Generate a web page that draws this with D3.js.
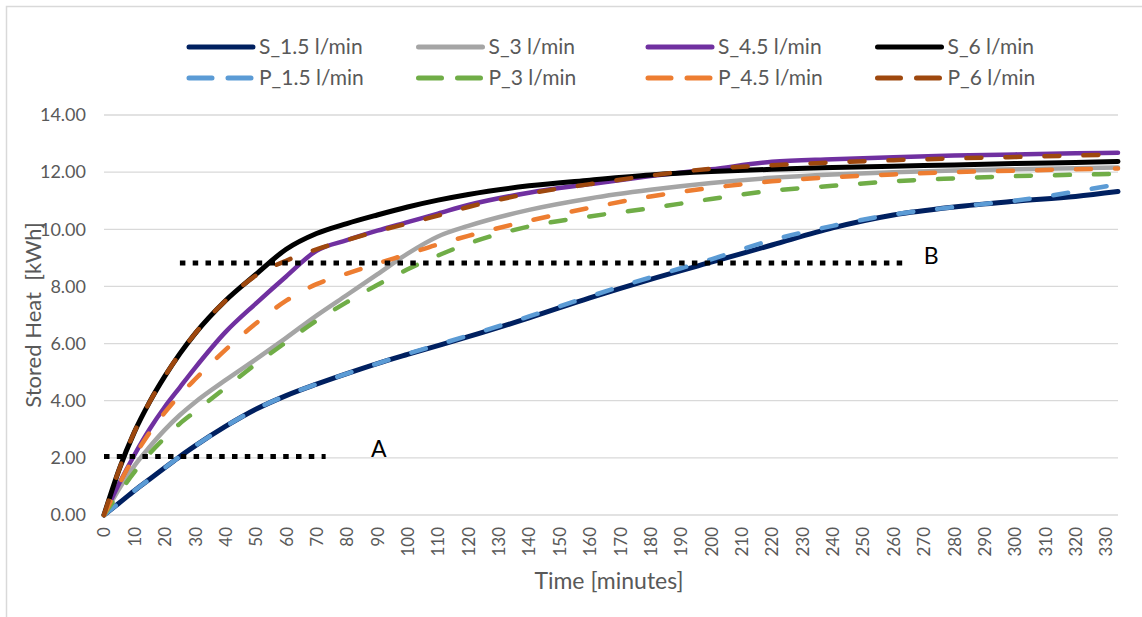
<!DOCTYPE html>
<html>
<head>
<meta charset="utf-8">
<script src="https://cdn.jsdelivr.net/npm/d3@7"></script>
<style>
  body { margin: 0; background: #fff; }
  text { font-family: Lato, "Open Sans", sans-serif; }
</style>
</head>
<body>
<svg id="chart" width="1142" height="617"></svg>
<script>
// time axis (minutes) and stored heat (kWh) for every flow rate
var minutes = [0, 5, 10, 15, 20, 25, 30, 40, 50, 60, 70, 80, 90, 100, 110, 120, 140, 160, 180, 200, 220, 240, 260, 280, 300, 320, 334];

var s15 = [0, 0.42, 0.85, 1.25, 1.65, 2.05, 2.42, 3.1, 3.7, 4.18, 4.58, 4.95, 5.3, 5.62, 5.93, 6.24, 6.9, 7.6, 8.25, 8.85, 9.45, 10.05, 10.5, 10.78, 10.98, 11.15, 11.32];
var s3  = [0, 0.92, 1.72, 2.38, 2.98, 3.5, 3.95, 4.72, 5.45, 6.2, 6.98, 7.7, 8.42, 9.15, 9.75, 10.12, 10.68, 11.08, 11.38, 11.62, 11.8, 11.92, 12.0, 12.06, 12.1, 12.14, 12.16];
var s45 = [0, 1.1, 2.1, 3.0, 3.78, 4.47, 5.15, 6.4, 7.4, 8.35, 9.25, 9.62, 9.95, 10.25, 10.55, 10.85, 11.28, 11.58, 11.86, 12.1, 12.36, 12.45, 12.52, 12.58, 12.62, 12.66, 12.68];
var s6  = [0, 1.6, 2.9, 3.95, 4.85, 5.65, 6.35, 7.5, 8.42, 9.3, 9.85, 10.2, 10.5, 10.78, 11.02, 11.22, 11.52, 11.72, 11.9, 12.02, 12.1, 12.16, 12.21, 12.25, 12.3, 12.34, 12.37];
var p15 = [0, 0.42, 0.85, 1.25, 1.65, 2.05, 2.42, 3.1, 3.7, 4.18, 4.58, 4.95, 5.3, 5.64, 5.96, 6.28, 6.95, 7.65, 8.32, 8.95, 9.62, 10.12, 10.52, 10.78, 11.0, 11.32, 11.58];
var p3  = [0, 0.78, 1.5, 2.15, 2.7, 3.2, 3.62, 4.45, 5.28, 6.05, 6.8, 7.45, 8.05, 8.6, 9.08, 9.5, 10.1, 10.45, 10.74, 11.06, 11.35, 11.52, 11.68, 11.78, 11.86, 11.91, 11.94];
var p45 = [0, 1.08, 2.05, 2.88, 3.58, 4.2, 4.75, 5.78, 6.7, 7.5, 8.08, 8.45, 8.8, 9.13, 9.47, 9.77, 10.3, 10.75, 11.15, 11.45, 11.68, 11.82, 11.92, 12.0, 12.05, 12.1, 12.13];
var p6  = [0, 1.6, 2.9, 3.95, 4.85, 5.65, 6.35, 7.5, 8.38, 8.9, 9.3, 9.62, 9.93, 10.2, 10.48, 10.78, 11.25, 11.58, 11.88, 12.12, 12.24, 12.34, 12.42, 12.48, 12.53, 12.58, 12.62];

var seriesNames  = ["S_1.5 l/min", "S_3 l/min", "S_4.5 l/min", "S_6 l/min", "P_1.5 l/min", "P_3 l/min", "P_4.5 l/min", "P_6 l/min"];
var seriesValues = [s15, s3, s45, s6, p15, p3, p45, p6];
var seriesColors = ["#002060", "#a5a5a5", "#7030a0", "#000000", "#5b9bd5", "#70ad47", "#ed7d31", "#9e480e"];
var seriesDashed = [false, false, false, false, true, true, true, true];

var yTicks = [0, 2, 4, 6, 8, 10, 12, 14];
var xTicks = d3.range(0, 331, 10);

// dotted marker lines A and B
var markNames = ["A", "B"];
var markLevel = [2.05, 8.82];
var markFrom  = [0, 25];
var markTo    = [73, 264];
var markLabelAt = [90.5, 272.5];

var svg = d3.select("#chart");
var textCol = "#595959";

// outer chart frame
svg.append("rect")
  .attr("x", 6.5).attr("y", 6.5)
  .attr("width", 1160).attr("height", 640)
  .attr("fill", "none")
  .attr("stroke", "#d9d9d9")
  .attr("stroke-width", 1.5);

var x = d3.scaleLinear().domain([0, 334]).range([104, 1118]);
var y = d3.scaleLinear().domain([0, 14]).range([515, 115]);

// gridlines
svg.append("g").selectAll("line")
  .data(yTicks)
  .enter().append("line")
  .attr("x1", x(0)).attr("x2", x(334))
  .attr("y1", function(d) { return y(d); })
  .attr("y2", function(d) { return y(d); })
  .attr("stroke", "#d9d9d9")
  .attr("stroke-width", 1.3);

// y axis
var yAxis = svg.append("g")
  .attr("transform", "translate(" + x(0) + ",0)")
  .call(d3.axisLeft(y).tickValues(yTicks).tickFormat(d3.format(".2f")).tickSize(0).tickPadding(18));
yAxis.select(".domain").remove();
yAxis.selectAll("text")
  .attr("fill", textCol)
  .style("font-size", "18px");

// x axis, labels turned upright
var xAxis = svg.append("g")
  .attr("transform", "translate(0," + y(0) + ")")
  .call(d3.axisBottom(x).tickValues(xTicks).tickSize(0));
xAxis.select(".domain").remove();
xAxis.selectAll("text")
  .attr("fill", textCol)
  .style("font-size", "17px")
  .attr("text-anchor", "end")
  .attr("transform", "rotate(-90)")
  .attr("x", -12)
  .attr("y", 0)
  .attr("dy", "0.35em");

// axis titles
svg.append("text")
  .attr("x", 609).attr("y", 589)
  .attr("text-anchor", "middle")
  .attr("fill", textCol)
  .style("font-size", "23px")
  .text("Time [minutes]");

svg.append("text")
  .attr("transform", "translate(41,315) rotate(-90)")
  .attr("text-anchor", "middle")
  .attr("fill", textCol)
  .style("font-size", "22px")
  .style("white-space", "pre")
  .text("Stored Heat  [kWh]");

// the curves
var line = d3.line()
  .x(function(d) { return x(d[0]); })
  .y(function(d) { return y(d[1]); })
  .curve(d3.curveMonotoneX);

var curves = seriesValues.map(function(vals, i) {
  return { i: i, pts: minutes.map(function(m, k) { return [m, vals[k]]; }) };
});

svg.append("g").selectAll("path")
  .data(curves)
  .enter().append("path")
  .attr("d", function(d) { return line(d.pts); })
  .attr("fill", "none")
  .attr("stroke", function(d) { return seriesColors[d.i]; })
  .attr("stroke-width", function(d) { return (d.i === 0 || d.i === 3) ? 5 : 4.5; })
  .attr("stroke-linecap", "round")
  .attr("stroke-linejoin", "round")
  .attr("stroke-dasharray", function(d) { return seriesDashed[d.i] ? "15,24" : null; });

// dotted markers and their letters
var marks = markNames.map(function(n, i) { return i; });
svg.append("g").selectAll("line")
  .data(marks)
  .enter().append("line")
  .attr("x1", function(i) { return x(markFrom[i]); })
  .attr("x2", function(i) { return x(markTo[i]); })
  .attr("y1", function(i) { return y(markLevel[i]); })
  .attr("y2", function(i) { return y(markLevel[i]); })
  .attr("stroke", "#000")
  .attr("stroke-width", 5)
  .attr("stroke-dasharray", "5.5,7.3");

svg.append("g").selectAll("text")
  .data(marks)
  .enter().append("text")
  .attr("x", function(i) { return x(markLabelAt[i]); })
  .attr("y", function(i) { return y(markLevel[i]) + 1; })
  .attr("text-anchor", "middle")
  .attr("fill", "#000")
  .style("font-size", "23px")
  .text(function(i) { return markNames[i]; });

// legend: solid series on the first row, dashed on the second
var legend = svg.append("g");
var items = legend.selectAll("g")
  .data(seriesNames.map(function(n, i) { return i; }))
  .enter().append("g")
  .attr("transform", function(i) {
    var col = i % 4, row = Math.floor(i / 4);
    return "translate(" + (187 + col * 229.5) + "," + (47 + row * 31) + ")";
  });

items.append("line")
  .attr("x1", 2).attr("x2", 66)
  .attr("y1", 0).attr("y2", 0)
  .attr("stroke", function(i) { return seriesColors[i]; })
  .attr("stroke-width", 5)
  .attr("stroke-linecap", "round")
  .attr("stroke-dasharray", function(i) { return seriesDashed[i] ? "23,16" : null; });

items.append("text")
  .attr("x", 72).attr("y", 0)
  .attr("dy", "0.35em")
  .attr("fill", textCol)
  .style("font-size", "21px")
  .text(function(i) { return seriesNames[i]; });
</script>
</body>
</html>
